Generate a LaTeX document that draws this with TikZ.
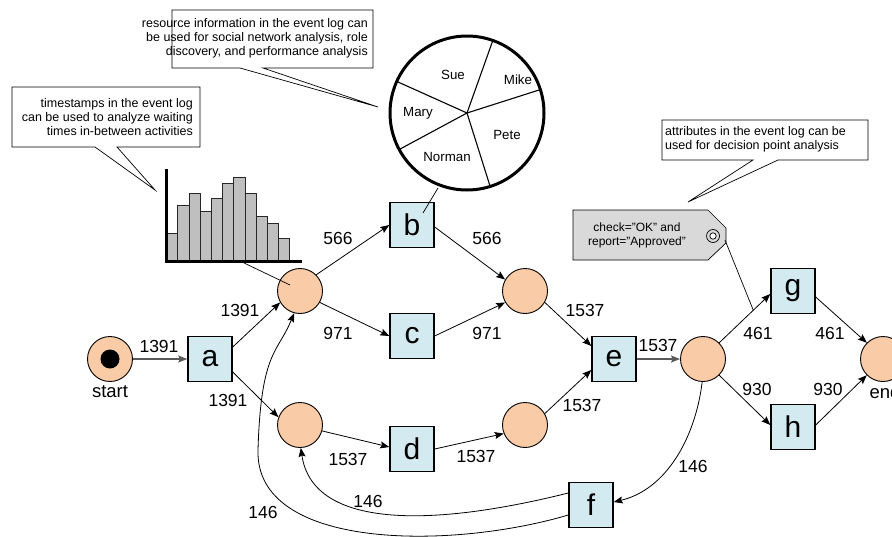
\documentclass[tikz,border=0pt]{standalone}
\usepackage{fontspec}
\setmainfont{Liberation Sans}
\usetikzlibrary{arrows.meta}
\definecolor{placefill}{HTML}{F9CBA6}
\definecolor{transfill}{HTML}{D3EAF0}
\definecolor{tagfill}{HTML}{D9D9D9}
\definecolor{barfill}{HTML}{BFBFBF}

\begin{document}
\begin{tikzpicture}[x=1pt,y=-1pt,
  place/.style={circle,draw=black,line width=0.9pt,fill=placefill,minimum size=45pt,inner sep=0pt},
  trans/.style={rectangle,draw=black,line width=1.4pt,fill=transfill,minimum width=44pt,minimum height=45pt,inner sep=0pt,font=\fontsize{30}{30}\selectfont},
  arc/.style={draw=black,line width=0.8pt,-{Stealth[length=9pt,width=7pt,inset=1.5pt]}},
  heavyarc/.style={arc,draw=black!65,line width=1.4pt},
  count/.style={font=\fontsize{17.5}{18}\selectfont,inner sep=0pt},
  lbl/.style={font=\fontsize{18.5}{19}\selectfont,inner sep=0pt},
  note/.style={draw=black,line width=0.7pt,fill=white,line join=miter},
  notetext/.style={font=\fontsize{12.5}{13.8}\selectfont,inner sep=0pt},
  pietext/.style={font=\fontsize{13.3}{14}\selectfont,inner sep=0pt},
  link/.style={draw=black,line width=0.7pt},
]
\useasboundingbox (0,0) rectangle (892,536);

% ---------- callouts ----------
\path[note] (12,87) -- (200,87) -- (200,147) -- (117,147) -- (155,190) -- (95,147) -- (12,147) -- cycle;
\node[notetext,align=right,anchor=east] (notetime) at (193,117)
  {timestamps in the event log\\can be used to analyze waiting\\times in-between activities};

\path[note] (172,10) -- (373,10) -- (373,68) -- (263,68) -- (378,107) -- (240,68) -- (172,68) -- cycle;
\node[notetext,align=right,anchor=east] (noteres) at (368,38)
  {resource information in the event log can\\be used for social network analysis, role\\discovery, and performance analysis};

\path[note] (662,120) -- (868,120) -- (868,160) -- (778,160) -- (688,202) -- (753,160) -- (662,160) -- cycle;
\node[notetext,align=left,anchor=west] (noteattr) at (665,139)
  {attributes in the event log can be\\used for decision point analysis};

% ---------- histogram of waiting times ----------
\foreach \t [count=\i from 0] in {233,205,193,211,198,183,177,193,216,223,238}
  \filldraw[fill=barfill,draw=black!85,line width=0.6pt]
    ({166.5+\i*11.2},260) rectangle ({177.7+\i*11.2},\t);
\draw[line width=3pt,line join=miter] (166,169) -- (166,261) -- (302,261);
\coordinate (histfoot) at (242,262);

% ---------- resource pie ----------
\coordinate (piec) at (467,113);
\foreach \a in {-155.8,-70.4,-17.7,72.5,151.7}
  \draw[line width=1.1pt] (piec) -- ++(\a:77);
\draw[line width=3pt] (piec) circle (77);
\node[pietext] (sue) at (453,75) {Sue};
\node[pietext] (mike) at (518,80) {Mike};
\node[pietext] (mary) at (418,113) {Mary};
\node[pietext] (pete) at (507,135) {Pete};
\node[pietext] (norman) at (447,157) {Norman};
\coordinate (piefoot) at (438,188);

% ---------- decision tag ----------
\filldraw[fill=tagfill,draw=black,line width=0.7pt,line join=miter]
  (573,210) -- (708,210) -- (726,228) -- (726,243) -- (708,260) -- (573,260) -- cycle;
\draw[line width=0.7pt] (713,236) circle (6.5);
\filldraw[fill=white,draw=black,line width=0.7pt] (713,236) circle (3.2);
\node[font=\fontsize{12}{14}\selectfont,align=center,inner sep=0pt] (tagtext) at (637,235)
  {check="OK" and\\report="Approved"};
\coordinate (tagpin) at (725,240);

% ---------- places ----------
\node[place] (start) at (110,359) {};
\fill (start) circle (9.5);
\node[place] (p1) at (300,291) {};
\node[place] (p2) at (300,425) {};
\node[place] (p3) at (525,291) {};
\node[place] (p4) at (525,425) {};
\node[place] (p5) at (703,359) {};
\node[place] (end) at (883,359) {};
\node[lbl] (startlbl) at (110,392) {start};
\node[lbl] (endlbl) at (885,392) {end};

% ---------- transitions ----------
\node[trans] (a) at (210,359) {a};
\node[trans] (b) at (412,225) {b};
\node[trans] (c) at (412,336) {c};
\node[trans] (d) at (412,449) {d};
\node[trans] (e) at (614,359) {e};
\node[trans] (f) at (591,505) {f};
\node[trans] (g) at (793,291) {g};
\node[trans] (h) at (793,427) {h};

% ---------- arcs ----------
\draw[heavyarc] (start.east) -- (a.west);
\draw[arc] ([yshift=12pt]a.east) -- (p1.-150);
\draw[arc] ([yshift=-13pt]a.east) -- (p2.160);
\draw[arc] (p1.45) -- (b.west);
\draw[arc] (p1.-30) -- (c.west);
\draw[arc] ([yshift=-2pt]b.east) -- (p3.150);
\draw[arc] (c.east) -- (p3.-150);
\draw[arc] (p2.-15) -- ([yshift=2pt]d.west);
\draw[arc] (d.east) -- (p4.-158);
\draw[arc] (p3.-30) -- ([yshift=13pt]e.west);
\draw[arc] (p4.30) -- ([yshift=-11pt]e.west);
\draw[heavyarc] (e.east) -- (p5.west);
\draw[arc] (p5.45) -- coordinate[pos=0.667] (gmid) ([yshift=-3pt]g.west);
\draw[arc] (p5.-45) -- ([yshift=2pt]h.west);
\draw[arc] ([yshift=-6pt]g.east) -- (end.135);
\draw[arc] ([yshift=2pt]h.east) -- (end.-135);
\draw[arc] (p5.-92) .. controls (695,440) and (665,490) .. ([yshift=3pt]f.east);
\draw[arc] ([yshift=12pt]f.west) .. controls (420,530) and (312,525) .. (p2.-88);
\draw[arc] ([yshift=-10pt]f.west) .. controls (450,550) and (255,550) .. (258,450)
  .. controls (261,350) and (278,353) .. (p1.-105);

% ---------- annotation links ----------
\draw[link] (histfoot) -- (290,285);
\draw[link] (piefoot) -- (423,213);
\draw[link] (tagpin) -- (gmid);

% ---------- arc counts ----------
\node[count] at (159,346) {1391};
\node[count] at (240,310) {1391};
\node[count] at (228,400) {1391};
\node[count] at (338,238) {566};
\node[count] at (487,238) {566};
\node[count] at (338,333) {971};
\node[count] at (487,333) {971};
\node[count] at (348,459) {1537};
\node[count] at (476,456) {1537};
\node[count] at (585,310) {1537};
\node[count] at (582,405) {1537};
\node[count] at (658,345) {1537};
\node[count] at (758,333) {461};
\node[count] at (830,333) {461};
\node[count] at (757,389) {930};
\node[count] at (828,389) {930};
\node[count] at (693,466) {146};
\node[count] at (368,501) {146};
\node[count] at (263,512) {146};
\end{tikzpicture}
\end{document}
